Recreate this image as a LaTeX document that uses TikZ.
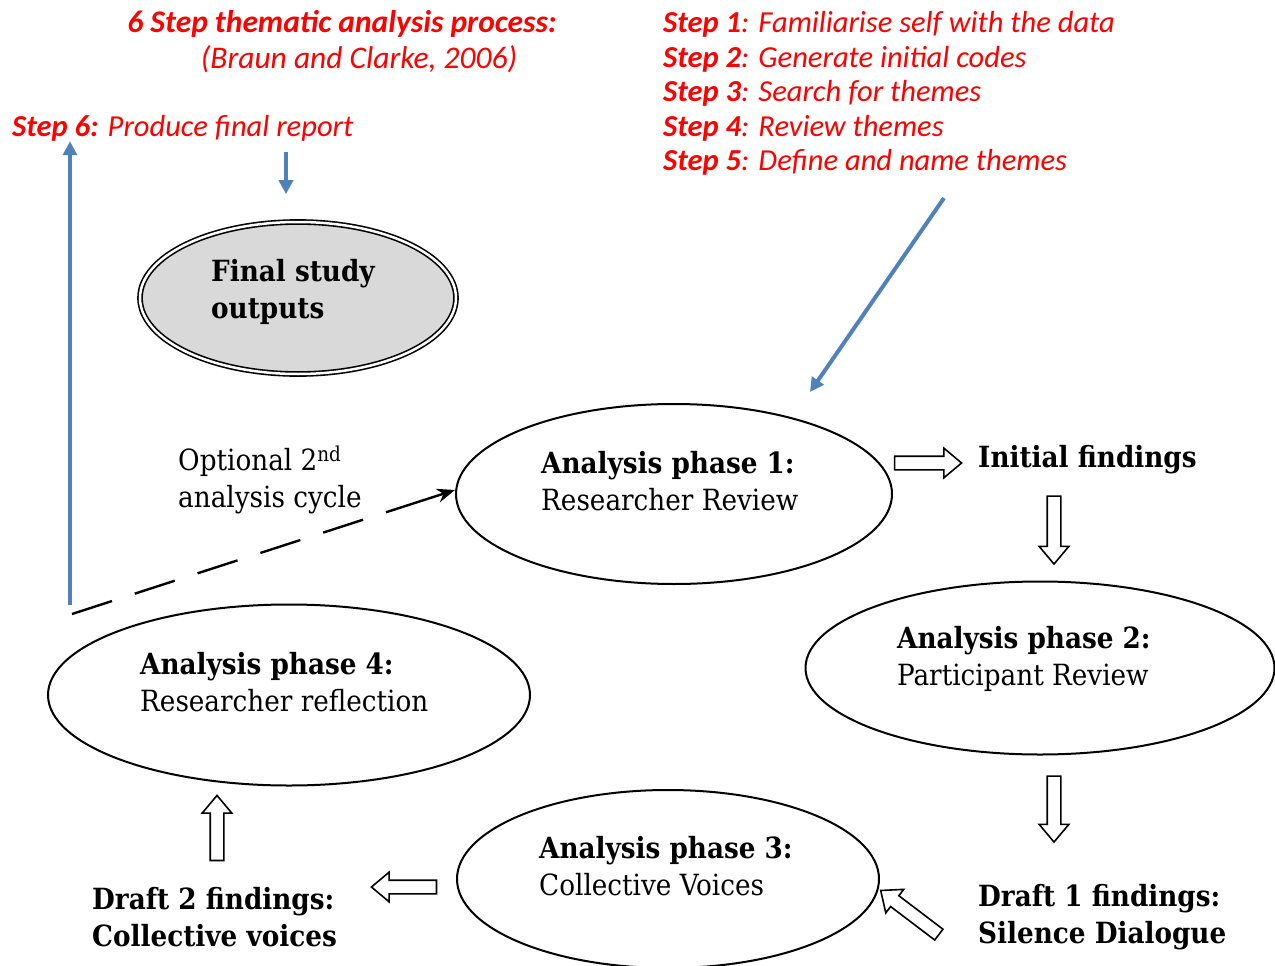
\documentclass[tikz,border=0pt]{standalone}
\usepackage{fontspec}
\setmainfont{DejaVu Serif Condensed}
\newfontfamily\stepfont{Carlito}
\usetikzlibrary{shapes.geometric,shapes.arrows,arrows.meta}
\definecolor{stepred}{RGB}{255,0,0}
\definecolor{flowblue}{RGB}{79,129,189}
\definecolor{outgray}{RGB}{217,217,217}
\begin{document}
\begin{tikzpicture}[x=1pt, y=-1pt,
	phase/.style={ellipse, draw, line width=2pt, inner sep=0pt},
	body/.style={font=\fontsize{29.2}{37}\selectfont, align=left, anchor=west, inner sep=0pt},
	steptext/.style={text=stepred, font=\stepfont\itshape\fontsize{30.5}{34}\selectfont, anchor=west, inner sep=0pt},
	headtext/.style={steptext, font=\stepfont\itshape\fontsize{31.5}{34}\selectfont, anchor=center},
	blockarrow/.style={single arrow, draw, line width=1.6pt, fill=white, inner xsep=0pt, inner ysep=6pt, single arrow head extend=8pt, single arrow tip angle=80},
	bluearrow/.style={draw=flowblue, line width=4pt, -{Triangle[length=14pt, width=14pt, fill=flowblue]}}]
	\useasboundingbox (0,0) rectangle (1275,966);
	% red headings
	\node[headtext] (title) at (342,24) {\bfseries 6 Step thematic analysis process:};
	\node[headtext] (source) at (359,59) {(Braun and Clarke, 2006)};
	\node[steptext] (step1) at (663,24) {\textbf{Step 1}: Familiarise self with the data};
	\node[steptext] (step2) at (663,59) {\textbf{Step 2}: Generate initial codes};
	\node[steptext] (step3) at (663,93) {\textbf{Step 3}: Search for themes};
	\node[steptext] (step4) at (663,128) {\textbf{Step 4}: Review themes};
	\node[steptext] (step5) at (663,162) {\textbf{Step 5}: Define and name themes};
	\node[steptext] (step6) at (12,128) {\textbf{Step 6:} Produce final report};
	% ellipses
	\node[phase, double, double distance=2.5pt, line width=1.6pt, fill=outgray, minimum width=316pt, minimum height=152pt] (final) at (298,298) {};
	\node[phase, minimum width=436pt, minimum height=180pt] (ap1) at (674,494) {};
	\node[phase, minimum width=469pt, minimum height=173pt] (ap2) at (1040,668) {};
	\node[phase, minimum width=422pt, minimum height=178pt] (ap3) at (668,879) {};
	\node[phase, minimum width=482pt, minimum height=181pt] (ap4) at (289,695) {};
	% texts
	\node[body] (finalt) at (211,292) {\textbf{Final study}\\\textbf{outputs}};
	\node[body] (ap1t) at (541,481) {\textbf{Analysis phase 1:}\\Researcher Review};
	\node[body] (ap2t) at (897,659) {\textbf{Analysis phase 2:}\\Participant Review};
	\node[body] (ap3t) at (539,866) {\textbf{Analysis phase 3:}\\Collective Voices};
	\node[body] (ap4t) at (140,682) {\textbf{Analysis phase 4:}\\Researcher reflection};
	\node[body] (initial) at (978,460) {\textbf{Initial findings}};
	\node[body] (draft1) at (978,917) {\textbf{Draft 1 findings:}\\\textbf{Silence Dialogue}};
	\node[body] (draft2) at (92,917) {\textbf{Draft 2 findings:}\\\textbf{Collective voices}};
	\node[body] (optional) at (178,480) {Optional 2\textsuperscript{nd}\\analysis cycle};
	% block arrows
	\node[blockarrow, minimum height=67pt] (toinitial) at (924,463) {};
	\node[blockarrow, minimum height=68pt, rotate=-90] (toap2) at (1054,526) {};
	\node[blockarrow, minimum height=66pt, rotate=-90] (todraft1) at (1054,805) {};
	\node[blockarrow, minimum height=73pt, rotate=142.8] (toap3) at (913,915) {};
	\node[blockarrow, minimum height=65pt, rotate=180] (todraft2) at (408,887) {};
	\node[blockarrow, minimum height=65pt, rotate=90] (toap4) at (217,832) {};
	% blue arrows
	\coordinate (upbase) at (70,605);
	\coordinate (diagtop) at (944,198);
	\coordinate (diagtip) at (810,392);
	\draw[bluearrow] (upbase) -- (upbase |- step6.south);
	\draw[bluearrow] ([shift={(-12,11)}]step6.south -| final.north) -- ([shift={(-12,-27)}]final.north);
	\draw[bluearrow] (diagtop) -- (diagtip);
	% second cycle
	\coordinate (cyclestart) at (72,614);
	\coordinate (cyclebreak) at (393,510);
	\draw[line width=2.4pt, dash pattern=on 42pt off 24pt] (cyclestart) -- (cyclebreak);
	\draw[line width=2.4pt, -{Stealth[length=18pt, width=14pt]}] (cyclebreak) -- ([yshift=4pt]ap1.west);
\end{tikzpicture}
\end{document}
